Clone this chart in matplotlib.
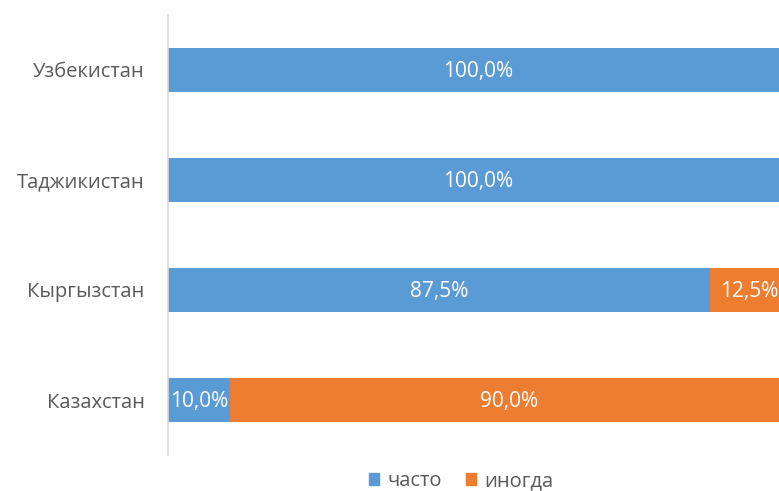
import matplotlib
matplotlib.use("Agg")
import matplotlib.pyplot as plt
from matplotlib.patches import Patch

categories = ["Казахстан", "Кыргызстан", "Таджикистан", "Узбекистан"]
often = [10.0, 87.5, 100.0, 100.0]
sometimes = [90.0, 12.5, 0.0, 0.0]
series_names = ["часто", "иногда"]

blue = "#5B9BD5"
orange = "#ED7D31"
gray = "#595959"

plt.rcParams['font.family'] = ['Open Sans', 'DejaVu Sans']

fig = plt.figure(figsize=(7.79, 4.91), dpi=100)
ax = fig.add_axes([168/779, (491-455)/491, 620/779, 440/491])

y = list(range(len(categories)))
ax.barh(y, often, height=0.4, color=blue)
ax.barh(y, sometimes, left=often, height=0.4, color=orange)

for i in y:
    if often[i] > 0:
        ax.text(often[i]/2, i - 0.01, f"{often[i]:.1f}%".replace('.', ','), ha='center', va='center',
                color='white', fontsize=15)
    if sometimes[i] > 0:
        ax.text(often[i] + sometimes[i]/2, i - 0.01, f"{sometimes[i]:.1f}%".replace('.', ','), ha='center', va='center',
                color='white', fontsize=15)

ax.set_xlim(0, 100)
ax.set_ylim(-0.5, 3.5)
ax.set_yticks(y)
ax.set_yticklabels(categories, fontsize=14.5, color=gray)
ax.tick_params(axis='y', length=0, pad=17)
ax.set_xticks([])
for s in ['top', 'right', 'bottom']:
    ax.spines[s].set_visible(False)
ax.spines['left'].set_color('#D9D9D9')
ax.spines['left'].set_linewidth(1.2)

handles = [Patch(color=blue), Patch(color=orange)]
fig.legend(handles, series_names, loc='center', bbox_to_anchor=(461/779, 1 - 481/491), ncol=2,
           frameon=False, fontsize=14.5, handlelength=0.5, handleheight=0.5, handletextpad=0.4,
           columnspacing=1.2, labelcolor=gray, borderpad=0)

fig.savefig("out.png", dpi=100)
